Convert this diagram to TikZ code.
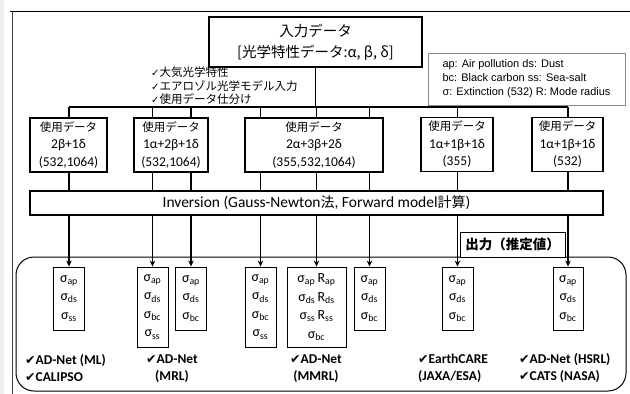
\documentclass[tikz,border=0pt]{standalone}
\usepackage{fontspec}
\setmainfont{Carlito}
\newfontfamily\jp{Noto Sans CJK JP}
\newfontfamily\lib{Liberation Sans}
\newfontfamily\dv{DejaVu Sans}
\usetikzlibrary{arrows.meta}
\newcommand{\sg}[1]{σ\textsubscript{#1}}
\newcommand{\rr}[1]{R\textsubscript{#1}}
\newcommand{\ck}{{\dv\fontsize{12.5}{12.5}\selectfont ✔}}
\begin{document}
\begin{tikzpicture}[x=1pt,y=-1pt,
  box/.style={draw, line width=1.4pt, inner sep=0pt, align=center},
  dbox/.style={box, minimum height=54pt, font=\fontsize{13.5}{17.5}\selectfont},
  sbox/.style={draw, line width=0.9pt, inner sep=0pt, align=center, minimum width=31pt, font=\fontsize{14}{18.5}\selectfont},
  con/.style={line width=1.3pt},
  arr/.style={line width=1.3pt, -{Stealth[length=6pt,width=5.5pt]}},
  lab/.style={font=\bfseries\fontsize{13.5}{17}\selectfont, inner sep=0pt}]
\useasboundingbox (0,0) rectangle (630,394);
\fill[gray!12] (0,0) rectangle (4,394);
\draw[line width=0.9pt, black!75] (12,11) -- (12,394);
\draw[line width=1.8pt] (10,11.5) -- (630,11.5);

% title
\node[box, minimum width=213pt, minimum height=50pt, font=\jp\fontsize{14.5}{21}\selectfont] (title) at (315.5,42) {入力データ\\{[}光学特性データ:α, β, δ{]}};
% legend
\node[draw=black!45, line width=0.7pt, minimum width=197pt, minimum height=52pt, inner sep=0pt, align=left, font=\lib\fontsize{11}{14}\selectfont] (legend) at (526.5,79) {ap: Air pollution ds: Dust\\bc: Black carbon ss: Sea-salt\\σ: Extinction (532) R: Mode radius};
% bullets
\node[anchor=west, align=left, inner sep=0pt, font=\jp\fontsize{11.5}{13.5}\selectfont] (bul) at (151,86) {{\dv\fontsize{10}{10}\selectfont ✓}大気光学特性\\{\dv\fontsize{10}{10}\selectfont ✓}エアロゾル光学モデル入力\\{\dv\fontsize{10}{10}\selectfont ✓}使用データ仕分け};

% data boxes
\node[dbox, minimum width=77pt] (d1) at (68.5,145) {{\jp\fontsize{11.5}{17.5}\selectfont 使用データ}\\2β+1δ\\(532,1064)};
\node[dbox, minimum width=74pt] (d2) at (171,145) {{\jp\fontsize{11.5}{17.5}\selectfont 使用データ}\\1α+2β+1δ\\(532,1064)};
\node[dbox, minimum width=138pt] (d3) at (314,145) {{\jp\fontsize{11.5}{17.5}\selectfont 使用データ}\\2α+3β+2δ\\(355,532,1064)};
\node[dbox, minimum width=72pt] (d4) at (457,144.5) {{\jp\fontsize{11.5}{17.5}\selectfont 使用データ}\\1α+1β+1δ\\(355)};
\node[dbox, minimum width=71pt] (d5) at (567.5,144.5) {{\jp\fontsize{11.5}{17.5}\selectfont 使用データ}\\1α+1β+1δ\\(532)};

% inversion
\node[box, minimum width=573pt, minimum height=24pt, font=\fontsize{15.5}{17}\selectfont] (inv) at (316.5,203) {Inversion (Gauss-Newton{\jp\fontsize{14}{17}\selectfont 法}, Forward model{\jp\fontsize{14}{17}\selectfont 計算})};

% output region
\node[draw, line width=1pt, rounded corners=18pt, minimum width=610pt, minimum height=134pt, inner sep=0pt] (outbox) at (321,324) {};
\node[draw, line width=0.9pt, fill=white, minimum width=105pt, minimum height=25pt, inner sep=0pt, font=\jp\bfseries\fontsize{13.5}{15}\selectfont] (outlab) at (512.5,244.5) {出力（推定値）};

% sigma boxes
\node[sbox, minimum height=63pt] (oA) at (69,298.5) {\sg{ap}\\\sg{ds}\\\sg{ss}};
\node[sbox, minimum height=80pt] (oB) at (152.5,307) {\sg{ap}\\\sg{ds}\\\sg{bc}\\\sg{ss}};
\node[sbox, minimum height=63pt] (oC) at (191,298.5) {\sg{ap}\\\sg{ds}\\\sg{bc}};
\node[sbox, minimum height=80pt] (oD) at (260.5,307) {\sg{ap}\\\sg{ds}\\\sg{bc}\\\sg{ss}};
\node[sbox, minimum height=80pt, minimum width=59pt] (oE) at (316.5,307) {\sg{ap}\,\rr{ap}\\\sg{ds}\,\rr{ds}\\\sg{ss}\,\rr{ss}\\\sg{bc}};
\node[sbox, minimum height=63pt] (oF) at (369.5,298.5) {\sg{ap}\\\sg{ds}\\\sg{bc}};
\node[sbox, minimum height=63pt] (oG) at (457.5,298.5) {\sg{ap}\\\sg{ds}\\\sg{bc}};
\node[sbox, minimum height=63pt, minimum width=30pt] (oH) at (568,298.5) {\sg{ap}\\\sg{ds}\\\sg{bc}};

% labels
\node[lab, anchor=west, align=left] (l1) at (25,368.5) {\ck AD-Net (ML)\\\ck CALIPSO};
\node[lab, align=center] (l2) at (172,368.5) {\ck AD-Net\\(MRL)};
\node[lab, align=center] (l3) at (316,368.5) {\ck AD-Net\\(MMRL)};
\node[lab, anchor=west, align=left] (l4) at (418,368.5) {\ck EarthCARE\\(JAXA/ESA)};
\node[lab, anchor=west, align=left] (l5) at (519,368.5) {\ck AD-Net (HSRL)\\\ck CATS (NASA)};

% connectors
\coordinate (busL) at (69,107);
\coordinate (busR) at (568,107);
\draw[con] (busL) -- (busR);
\draw[con] (title.south) -- (title.south |- busL);
\foreach \o/\d in {oA/d1, oB/d2, oC/d2, oD/d3, oE/d3, oF/d3, oG/d4, oH/d5}{
  \draw[con] (\o.north |- busL) -- (\o.north |- \d.north);
  \draw[con] (\o.north |- \d.south) -- (\o.north |- inv.north);
  \draw[arr] (\o.north |- inv.south) -- (\o.north);
}
\end{tikzpicture}
\end{document}
